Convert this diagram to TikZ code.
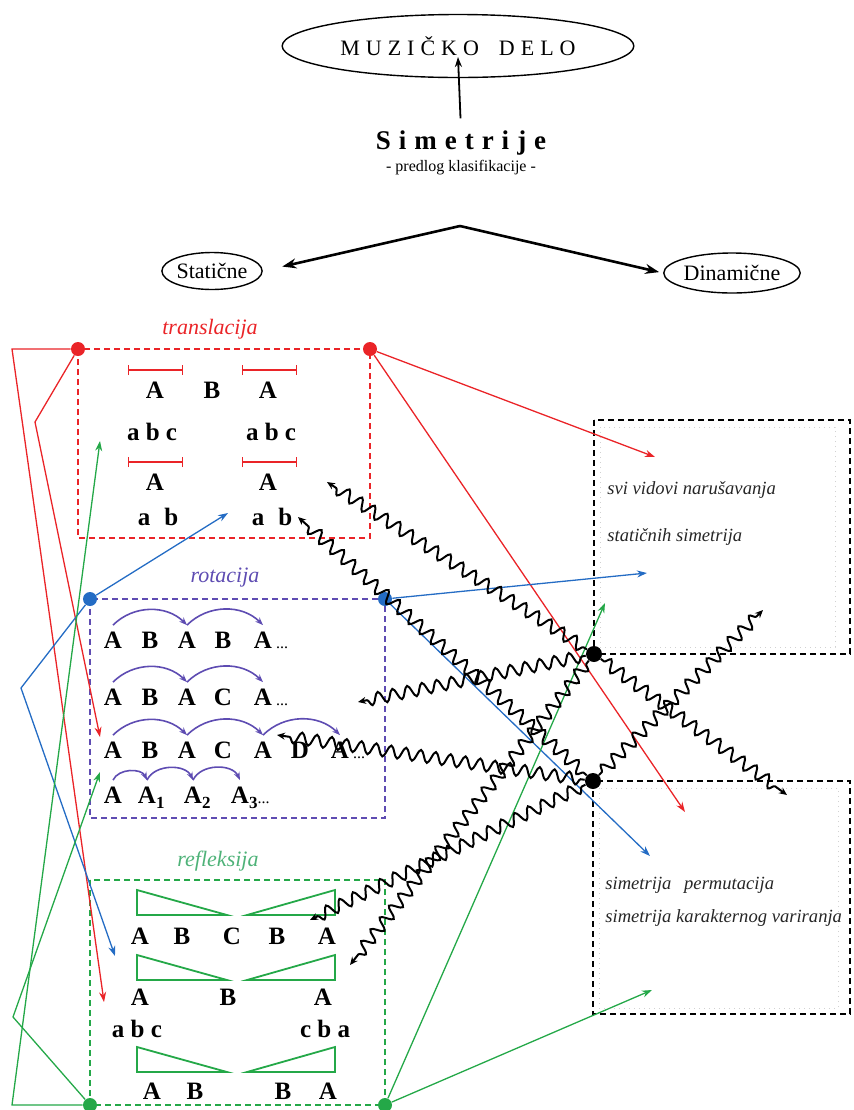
\documentclass[tikz,border=0pt]{standalone}
\usepackage{fontspec}
\setmainfont{Liberation Serif}
\usetikzlibrary{arrows.meta,decorations.pathmorphing,shapes.geometric}
\definecolor{trred}{RGB}{234,36,40}
\definecolor{roblue}{RGB}{36,108,196}
\definecolor{ropurple}{RGB}{94,76,178}
\definecolor{regreen}{RGB}{36,168,72}
\definecolor{relabel}{RGB}{78,178,120}
\newcommand{\ltr}{\hspace{3pt}}
\newcommand{\wide}{\hspace{4pt}}
\newcommand{\more}{\normalfont\fontsize{8}{8}\selectfont...}
\newcommand{\etc}{\rlap{\,\more}}
\newcommand{\idx}[2][]{\rlap{\raisebox{-2.5pt}{\fontsize{8.5}{8.5}\selectfont #2}#1}}
\tikzset{
  sym/.style={font=\fontsize{12.5}{14}\selectfont\bfseries, anchor=base, inner sep=3pt},
  ttl/.style={font=\fontsize{11}{13}\selectfont\itshape, inner sep=0pt},
  note/.style={font=\fontsize{9.3}{11}\selectfont\itshape, text=black!85, anchor=west, inner sep=0pt},
  kind/.style={draw, ellipse, line width=0.7pt, inner sep=0pt, font=\fontsize{11}{13}\selectfont},
  frame/.style={line width=0.9pt, dash pattern=on 3pt off 2pt},
  ghost/.style={gray!35, line width=0.5pt, dotted},
  dot/.style={circle, fill, inner sep=0pt, minimum size=7pt},
  link/.style={line width=0.65pt, -{Stealth[length=5pt,width=3.5pt]}},
  wave/.style={line width=1pt, -{Stealth[length=4pt,width=3.5pt]},
    decorate, decoration={snake, amplitude=3pt, segment length=7.5pt, pre length=2pt, post length=4pt}},
  hop/.style={ropurple, line width=0.8pt, bend left=45, -{Stealth[length=4pt,width=3pt]}},
  seg/.style={trred, line width=0.7pt, {Bar[width=5pt]}-{Bar[width=5pt]}},
  wedge/.style={regreen, line width=0.9pt},
}

\begin{document}
\begin{tikzpicture}[x=0.5pt, y=-0.5pt]
  \useasboundingbox (0,0) rectangle (854,1110);
  % head
  \node[draw, ellipse, line width=0.7pt, minimum width=140.5pt, minimum height=31.5pt,
        font=\fontsize{11}{13}\selectfont] (work) at (458,46)
    {M\ltr U\ltr Z\ltr I\ltr Č\ltr K\ltr O\hspace{10pt}D\ltr E\ltr L\ltr O};
  \node[font=\fontsize{13.5}{15}\selectfont\bfseries, inner sep=0pt] (simt) at (461,143)
    {S\wide i\wide m\wide e\wide t\wide r\wide i\wide j\wide e};
  \node[font=\fontsize{8}{10}\selectfont, inner sep=0pt] (pred) at (461,168) {- predlog klasifikacije -};
  \coordinate (worktip) at (458,57);
  \draw[link, line width=0.9pt, shorten <=6pt] (simt.north) -- (worktip);
  \coordinate (fork) at (460,226);
  \node[kind, minimum width=44.5pt, minimum height=18.5pt] (stat) at (212,271) {Statične};
  \node[kind, minimum width=62.5pt, minimum height=20pt] (dyn) at (732,273) {Dinamične};
  \draw[line width=1.3pt, -{Stealth[length=7pt,width=5pt]}, shorten >=10pt] (fork) -- (stat.east);
  \draw[line width=1.3pt, -{Stealth[length=7pt,width=5pt]}, shorten >=2pt] (fork) -- (dyn.west);

  % translacija
  \draw[frame, trred] (78,349) rectangle (370,538);
  \node[dot, trred] (tl) at (78,349) {};
  \node[dot, trred] (tr) at (370,349) {};
  \node[ttl, trred] (tlab) at (210,329) {translacija};
  \foreach \y in {370,462} {
    \draw[seg] (128,\y) -- (183,\y);
    \draw[seg] (242,\y) -- (297,\y);
  }
  \foreach \t/\x [count=\i] in {A/155,B/212,A/268} \node[sym] (ta\i) at (\x,398) {\t};
  \node[sym] (tb1) at (152,440) {a b c};
  \node[sym] (tb2) at (271,440) {a b c};
  \node[sym] (tc1) at (155,490) {A};
  \node[sym] (tc2) at (268,490) {A};
  \node[sym] (td1) at (158,525) {a\hspace{7pt}b};
  \node[sym] (td2) at (272,525) {a\hspace{7pt}b};

  % rotacija
  \draw[frame, ropurple] (90,599) rectangle (385,818);
  \node[dot, roblue] (bl) at (90,599) {};
  \node[dot, roblue] (br) at (385,599) {};
  \node[ttl, ropurple] (rlab) at (225,578) {rotacija};
  \foreach \t/\x [count=\i] in {A/113,B/150,A/187,B/223,A\etc/263} \node[sym] (ra\i) at (\x,648) {\t};
  \foreach \t/\x [count=\i] in {A/113,B/150,A/187,C/223,A\etc/263} \node[sym] (rb\i) at (\x,705) {\t};
  \foreach \t/\x [count=\i] in {A/113,B/150,A/187,C/223,A/263,D/300,A\etc/340} \node[sym] (rc\i) at (\x,758) {\t};
  \foreach \t/\x [count=\i] in {A/113,A\idx{1}/147,A\idx{2}/193,A\idx[\more]{3}/240} \node[sym] (rd\i) at (\x,803) {\t};
  \foreach \a/\b in {ra1/ra3,ra3/ra5,rb1/rb3,rb3/rb5,rc1/rc3,rc3/rc5,rc5/rc7}
    \draw[hop] (\a.north) to (\b.north);
  \foreach \a/\b in {rd1/rd2,rd2/rd3,rd3/rd4}
    \draw[hop, bend left=65] (\a.north) to (\b.north);

  % refleksija
  \draw[frame, regreen] (90,880) rectangle (385,1105);
  \node[dot, regreen] (gl) at (90,1105) {};
  \node[dot, regreen] (gr) at (385,1105) {};
  \node[ttl, relabel] (glab) at (218,861) {refleksija};
  \foreach \ty in {890,955,1047} {
    \draw[wedge] (137,\ty) -- (137,\ty+25) -- (227,\ty+25) -- cycle;
    \draw[wedge] (335,\ty) -- (335,\ty+25) -- (247,\ty+25) -- cycle;
  }
  \foreach \t/\x [count=\i] in {A/140,B/182,C/232,B/277,A/327} \node[sym] (ga\i) at (\x,944) {\t};
  \foreach \t/\x [count=\i] in {A/140,B/228,A/323} \node[sym] (gb\i) at (\x,1005) {\t};
  \node[sym] (gc1) at (137,1037) {a b c};
  \node[sym] (gc2) at (325,1037) {c b a};
  \foreach \t/\x [count=\i] in {A/152,B/195,B/283,A/328} \node[sym] (gd\i) at (\x,1099) {\t};

  % dinamicne
  \draw[ghost] (600,427) rectangle (835,647);
  \draw[ghost] (599,788) rectangle (838,1008);
  \draw[frame] (594,420) rectangle (850,654);
  \draw[frame] (593,781) rectangle (850,1014);
  \node[dot, minimum size=8pt] (ka) at (594,654) {};
  \node[dot, minimum size=8pt] (kb) at (593,781) {};
  \node[note] (n1) at (607,490) {svi vidovi narušavanja};
  \node[note] (n2) at (607,537) {statičnih simetrija};
  \node[note] (n3) at (605,885) {simetrija\hspace{4pt} permutacija};
  \node[note] (n4) at (605,918) {simetrija karakternog variranja};

  % veze
  \coordinate (r1) at (12,349);   \coordinate (rt1) at (104,1002);
  \coordinate (r2) at (35,422);   \coordinate (rt2) at (100,737);
  \coordinate (rt3) at (655,457); \coordinate (rt4) at (685,812);
  \draw[link, trred] (tl) -- (r1) -- (rt1);
  \draw[link, trred] (tl) -- (r2) -- (rt2);
  \draw[link, trred] (tr) -- (rt3);
  \draw[link, trred] (tr) -- (rt4);
  \coordinate (b1) at (21,688);   \coordinate (bt1) at (228,513);
  \coordinate (bt2) at (115,956); \coordinate (bt3) at (647,573);
  \coordinate (bt4) at (650,856);
  \draw[link, roblue] (bl) -- (bt1);
  \draw[link, roblue] (bl) -- (b1) -- (bt2);
  \draw[link, roblue] (br) -- (bt3);
  \draw[link, roblue] (br) -- (bt4);
  \coordinate (g1) at (12,1105);  \coordinate (gt1) at (100,441);
  \coordinate (g2) at (13,1017);  \coordinate (gt2) at (100,772);
  \coordinate (gt3) at (605,603); \coordinate (gt4) at (652,990);
  \draw[link, regreen] (gl) -- (g1) -- (gt1);
  \draw[link, regreen] (gl) -- (g2) -- (gt2);
  \draw[link, regreen] (gr) -- (gt3);
  \draw[link, regreen] (gr) -- (gt4);
  \coordinate (wa1) at (327,482); \coordinate (wa2) at (358,702);
  \coordinate (wa3) at (350,965); \coordinate (wa4) at (787,795);
  \coordinate (wb1) at (298,517); \coordinate (wb2) at (277,735);
  \coordinate (wb3) at (310,920); \coordinate (wb4) at (763,610);
  \foreach \e in {wa1,wa2,wa3,wa4} \draw[wave] (ka) -- (\e);
  \foreach \e in {wb1,wb2,wb3,wb4} \draw[wave] (kb) -- (\e);
\end{tikzpicture}
\end{document}
